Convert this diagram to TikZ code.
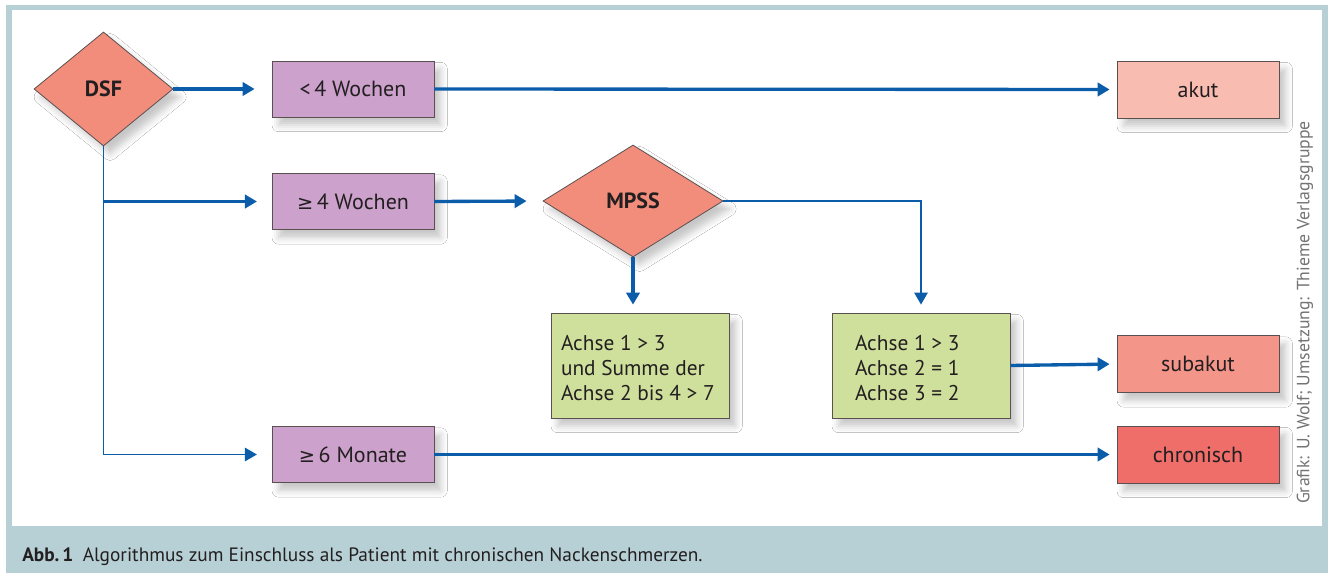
\documentclass[tikz,border=0pt]{standalone}
\usepackage{fontspec}
\setmainfont{PT Sans}
\newfontfamily\symf{DejaVu Sans}
\usetikzlibrary{shapes.geometric,arrows.meta,shadows.blur}
\definecolor{frameblue}{HTML}{B7D0D5}
\definecolor{diamondc}{HTML}{F38D7B}
\definecolor{purplec}{HTML}{CCA1CC}
\definecolor{greenc}{HTML}{CFE09C}
\definecolor{akutc}{HTML}{F9BCB1}
\definecolor{subakutc}{HTML}{F4958A}
\definecolor{chronc}{HTML}{F06E6A}
\definecolor{arrowc}{HTML}{0B5DAA}
\definecolor{txt}{HTML}{231F20}
\definecolor{edgec}{HTML}{5A5050}
\newcommand\gez{{\symf\fontsize{14.5pt}{16pt}\selectfont ≥}}
\newcommand\leftlines[2]{\raisebox{-3.75pt}[\height][\depth]{\makebox[#1][l]{\begin{tabular}{@{}l@{}}#2\end{tabular}}}}
\begin{document}
\begin{tikzpicture}[x=0.75pt,y=-0.75pt,
  shad/.style={blur shadow={shadow xshift=5pt,shadow yshift=-6pt,shadow blur radius=5pt,shadow opacity=22}},
  boxbase/.style={draw=edgec,line width=0.6pt,shad,text=txt,font=\fontsize{16.5pt}{18.75pt}\selectfont,inner sep=0pt},
  purplebox/.style={boxbase,fill=purplec,minimum width=121.5pt,minimum height=42pt},
  resbox/.style={boxbase,minimum width=121.5pt,minimum height=42.75pt},
  greenbox/.style={boxbase,fill=greenc,minimum width=133.5pt,minimum height=78.75pt,font=\fontsize{16pt}{18.75pt}\selectfont},
  dia/.style={boxbase,diamond,fill=diamondc,font=\fontsize{16.5pt}{18pt}\selectfont\bfseries},
  thickarr/.style={draw=arrowc,line width=2.5pt,-{Triangle[length=9pt,width=10pt]}},
  thinarr/.style={draw=arrowc,line width=1.4pt,-{Triangle[length=9pt,width=10pt]}}
]
\useasboundingbox (0,0) rectangle (1328,573);
\fill[frameblue] (6,5) rectangle (1328,573);
\fill[white] (12,10) rectangle (1322,526);

% nodes
\node[dia,minimum width=104.25pt,minimum height=85.5pt] (DSF) at (103.5,89) {DSF};
\node[purplebox] (lt4) at (353,89) {<\,4 Wochen};
\node[purplebox] (ge4) at (353,201.5) {\gez\,4 Wochen};
\node[purplebox] (ge6) at (353,454.5) {\gez\,6 Monate};
\node[dia,minimum width=135pt,minimum height=84pt] (MPSS) at (633,201) {MPSS};
\node[greenbox,inner xsep=7.5pt] (g1) at (640,365.5) {\leftlines{118.5pt}{Achse 1 > 3\\und Summe der\\Achse 2 bis 4 > 7}};
\node[greenbox,inner xsep=17.25pt] (g2) at (921,365.5) {\leftlines{99pt}{Achse 1 > 3\\Achse 2 = 1\\Achse 3 = 2}};
\node[resbox,fill=akutc] (akut) at (1198,89.5) {akut};
\node[resbox,fill=subakutc] (subakut) at (1198,364) {subakut};
\node[resbox,fill=chronc] (chron) at (1198,454.5) {chronisch};

% connectors
\draw[thickarr,shorten >=12.75pt] (DSF.east) -- (lt4.west);
\draw[thickarr,shorten >=5.25pt] (lt4.east) -- (akut.west);
\draw[thinarr,shorten >=11pt] (DSF.south) |- (ge6.west);
\draw[thickarr,shorten >=11pt] (DSF.south |- ge4.west) -- (ge4.west);
\draw[thickarr,shorten >=12pt] (ge4.east) -- (MPSS.west);
\draw[thickarr,shorten >=6pt] (MPSS.south) -- (MPSS.south |- g1.north);
\draw[thinarr,shorten >=6pt] (MPSS.east) -| (g2.north);
\draw[thickarr,shorten >=5.25pt] (g2.east) -- (subakut.west);
\draw[thickarr,shorten >=5.25pt] (ge6.east) -- (chron.west);

% credits and caption
\node[rotate=90,text=black!55,font=\fontsize{13.3pt}{15pt}\selectfont,inner sep=0pt] (credit) at (1305,312.5) {Grafik: U. Wolf; Umsetzung: Thieme Verlagsgruppe};
\node[anchor=west,text=txt,font=\fontsize{14.5pt}{16pt}\selectfont,inner sep=0pt] (caption) at (22,557) {\textbf{Abb.\,1}\hspace{7pt}Algorithmus zum Einschluss als Patient mit chronischen Nackenschmerzen.};
\end{tikzpicture}
\end{document}
